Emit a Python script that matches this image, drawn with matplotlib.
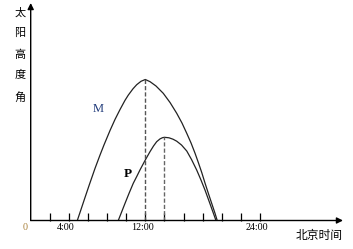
import matplotlib
matplotlib.use('Agg')
import matplotlib.pyplot as plt
from matplotlib.transforms import ScaledTranslation

# 北京时间 (h) 与太阳高度角 (°)
m_hour = [4.88, 5.27, 5.69, 6.14, 6.73, 7.26, 7.68, 8.31, 8.83, 9.36, 9.87, 10.22,
          10.71, 11.10, 11.55, 12.0,
          12.50, 13.12, 13.88, 14.59, 15.29, 15.84, 16.34, 16.79, 17.21, 17.57,
          17.91, 18.25, 18.60, 18.95, 19.30, 19.53]
m_alt = [0, 5.55, 11.55, 17.9, 26.0, 32.75, 37.85, 45.05, 50.55, 55.55, 60.05, 62.7,
         65.85, 67.9, 69.6, 70.5,
         69.4, 67.25, 63.6, 59.0, 53.6, 48.75, 43.6, 38.75, 33.6, 28.75,
         24.0, 18.75, 13.6, 8.6, 3.6, 0]

p_hour = [9.17, 9.87, 10.29, 10.74, 11.13, 11.44, 11.97, 12.49, 12.86, 13.19, 13.54,
          13.80, 14.0,
          14.48, 14.90, 15.29, 15.79, 16.34, 16.84, 17.38, 17.83, 18.25, 18.67,
          19.12, 19.40]
p_alt = [0, 8.5, 13.5, 18.6, 22.25, 25.25, 30.0, 34.4, 37.25, 39.4, 40.8,
         41.4, 41.6,
         41.35, 40.65, 39.65, 37.75, 34.75, 30.5, 25.25, 20.25, 15.25, 9.75,
         3.75, 0]

m_noon = (12.0, 70.5)
p_noon = (14.0, 41.6)

tick_hours = [2, 4, 6, 8, 10, 12, 14, 16, 18, 20, 22, 24]
tick_labels = ['', '4:00', '', '', '', '12:00', '', '', '', '', '', '24:00']

W, H = 353, 249
fig = plt.figure(figsize=(W / 100, H / 100), dpi=100)
ax = fig.add_axes([30.7 / W, 28.5 / H, 312.3 / W, 217.5 / H])
ax.set_xlim(0, 312.3 / 9.55)
ax.set_ylim(0, 217.5 / 2)
for s in ax.spines.values():
    s.set_visible(False)

# 坐标轴箭头
arw = dict(arrowstyle='-|>', color='k', lw=1.0, mutation_scale=9, shrinkA=0, shrinkB=0)
ax.annotate('', xy=(1, 0), xytext=(0, 0), xycoords='axes fraction', arrowprops=arw)
ax.annotate('', xy=(0, 1), xytext=(0, 0), xycoords='axes fraction', arrowprops=arw)

ax.plot(m_hour, m_alt, color='#222222', lw=0.9)
ax.plot(p_hour, p_alt, color='#222222', lw=0.9)
ax.plot([m_noon[0], m_noon[0]], [0, m_noon[1]], color='#555555', lw=1.0, ls=(0, (3, 1.5)))
ax.plot([p_noon[0], p_noon[0]], [0, p_noon[1]], color='#666666', lw=1.0, ls=(0, (3, 1.5)))

ax.set_yticks([])
ax.set_xticks(tick_hours)
ax.set_xticklabels(tick_labels, fontsize=7.2, family='Liberation Serif')
ax.tick_params(axis='x', direction='in', length=5.8, width=0.9, pad=1.5)
for lab in ax.get_xticklabels():
    lab.set_transform(lab.get_transform() + ScaledTranslation(-3 / 100, 0, fig.dpi_scale_trans))

fig.text(25 / W, 1 - 227 / H, '0', fontsize=7.2, family='Liberation Serif',
         color='#a8803a', ha='center', va='center')
fig.text(98 / W, 1 - 109 / H, 'M', fontsize=9, family='Liberation Serif',
         color='#1f3a7a', ha='center', va='center')
fig.text(128 / W, 1 - 174 / H, 'P', fontsize=9.5, family='Liberation Serif',
         fontweight='bold', color='k', ha='center', va='center')
fig.text(319 / W, 1 - 235 / H, '北京时间', fontsize=8.5, family='Noto Sans CJK SC',
         ha='center', va='center')
fig.text(20 / W, 1 - 55 / H, '太\n阳\n高\n度\n角', fontsize=8, family='Noto Sans CJK SC',
         ha='center', va='center', linespacing=2.3)

fig.savefig('out.png', dpi=100)
